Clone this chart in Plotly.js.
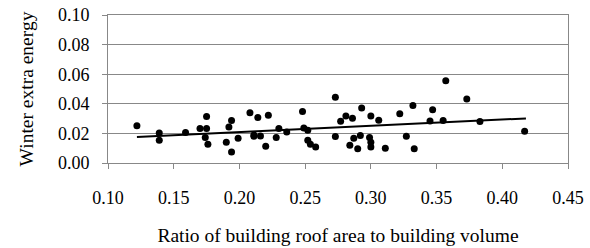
<!DOCTYPE html>
<html>
<head>
<meta charset="utf-8">
<script src="https://cdn.plot.ly/plotly-3.0.1.min.js"></script>
<style>html,body{margin:0;padding:0;background:#fff;}#chart{width:590px;height:248px;}</style>
</head>
<body>
<div id="chart"></div>
<script>
const ratio = [0.122,0.139,0.139,0.159,0.170,0.175,0.175,0.174,0.176,0.190,0.192,0.194,0.194,0.199,0.208,0.211,0.211,0.214,0.216,0.220,0.222,0.228,0.230,0.236,0.248,0.249,0.252,0.252,0.254,0.258,0.273,0.273,0.277,0.281,0.286,0.293,0.300,0.306,0.284,0.287,0.290,0.292,0.299,0.300,0.300,0.311,0.322,0.327,0.332,0.333,0.345,0.347,0.355,0.357,0.373,0.383,0.417];
const energy = [0.0251,0.0203,0.0154,0.0206,0.0233,0.0233,0.0314,0.0172,0.0127,0.0140,0.0244,0.0287,0.0075,0.0167,0.0339,0.0190,0.0181,0.0307,0.0183,0.0113,0.0323,0.0172,0.0233,0.0210,0.0348,0.0237,0.0221,0.0154,0.0127,0.0108,0.0445,0.0179,0.0282,0.0318,0.0303,0.0372,0.0318,0.0289,0.0120,0.0167,0.0097,0.0186,0.0172,0.0140,0.0108,0.0100,0.0332,0.0181,0.0389,0.0097,0.0284,0.0359,0.0287,0.0555,0.0433,0.0280,0.0215];
const trendX = [0.122, 0.418];
const trendY = [0.0176, 0.0301];
const xTicks = [0.10,0.15,0.20,0.25,0.30,0.35,0.40,0.45];
const yTicks = [0.00,0.02,0.04,0.06,0.08,0.10];

const mk = (s) => ({family: 'Liberation Serif', size: s, color: '#000000'});
const xRange = [0.10, 0.45], yRange = [0, 0.10];
Plotly.newPlot('chart', [
  {x: ratio, y: energy, type: 'scatter', mode: 'markers', marker: {color: '#000', size: 7}, hoverinfo: 'skip'},
  {x: trendX, y: trendY, type: 'scatter', mode: 'lines', line: {color: '#000', width: 2}, hoverinfo: 'skip'},
  {x: [], y: [], xaxis: 'x2', yaxis: 'y2', type: 'scatter', hoverinfo: 'skip'}
], {
  width: 590, height: 248,
  margin: {l: 108, r: 22, t: 15, b: 85},
  showlegend: false,
  paper_bgcolor: '#fff', plot_bgcolor: '#fff',
  font: mk(18),
  xaxis: {
    range: xRange, tickmode: 'array', tickvals: xTicks, ticktext: xTicks.map(v => v.toFixed(2)),
    tickfont: mk(18),
    showgrid: false, zeroline: false, showline: true, mirror: true, linecolor: '#888', linewidth: 1,
    ticks: 'outside', ticklen: 18, tickcolor: 'rgba(0,0,0,0)',
    title: {text: 'Ratio of building roof area to building volume', font: mk(19.5), standoff: 21}
  },
  yaxis: {
    range: yRange, tickmode: 'array', tickvals: yTicks, ticktext: yTicks.map(v => v.toFixed(2)),
    tickfont: mk(18),
    showgrid: true, gridcolor: '#888', gridwidth: 1, zeroline: false, showline: true, mirror: true, linecolor: '#888', linewidth: 1,
    ticks: 'outside', ticklen: 14, tickcolor: 'rgba(0,0,0,0)',
    title: {text: 'Winter extra energy', font: mk(19.5), standoff: 19}
  },
  xaxis2: {
    overlaying: 'x', anchor: 'y', side: 'bottom', range: xRange, tickmode: 'array', tickvals: xTicks,
    showticklabels: false, showgrid: false, zeroline: false, showline: false,
    ticks: 'outside', ticklen: 5, tickcolor: '#888'
  },
  yaxis2: {
    overlaying: 'y', anchor: 'x', side: 'left', range: yRange, tickmode: 'array', tickvals: yTicks,
    showticklabels: false, showgrid: false, zeroline: false, showline: false,
    ticks: 'outside', ticklen: 5, tickcolor: '#888'
  }
}, {staticPlot: true, displayModeBar: false});
</script>
</body>
</html>
